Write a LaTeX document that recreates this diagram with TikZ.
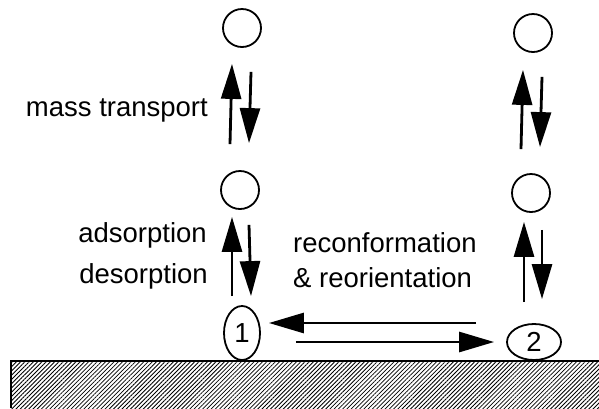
\documentclass[tikz,border=0pt]{standalone}
\usepackage{fontspec}
\setmainfont{Liberation Sans}
\usetikzlibrary{arrows.meta,shapes.geometric,patterns.meta}

\begin{document}
\begin{tikzpicture}[x=1pt, y=-1pt,
    font=\fontsize{27.5}{33}\selectfont,
    mol/.style={draw, circle, line width=1.8pt, minimum size=38pt, inner sep=0pt},
    site/.style={draw, ellipse, line width=1.8pt, inner sep=0pt},
    flow/.style={-{Triangle[length=35pt, width=20pt]}, line width=2.8pt},
    lbl/.style={inner sep=0pt}]

    \useasboundingbox (0,0) rectangle (599,408);

    % surface
    \fill[pattern={Lines[angle=45, distance=3pt, line width=0.8pt]}] (11,361) rectangle (599,408);
    \draw[line width=1.8pt] (11,408) -- (11,361) -- (599,361);

    \node[mol] (topL) at (242,28) {};
    \node[mol] (midL) at (240,190) {};
    \node[site, minimum width=36pt, minimum height=54pt] (one) at (242,333) {1};

    \node[mol] (topR) at (533,33) {};
    \node[mol] (midR) at (531,193) {};
    \node[site, minimum width=54pt, minimum height=36pt] (two) at (534,342) {2};

    \node[lbl, anchor=base east] (mass) at (208,116) {mass transport};
    \node[lbl, anchor=base east] (ads)  at (207,242) {adsorption};
    \node[lbl, anchor=base east] (des)  at (208,283) {desorption};
    \node[lbl, anchor=base west] (recon) at (293,252) {reconformation};
    \node[lbl, anchor=base west] (reor)  at (293,287) {\& reorientation};

    \draw[flow] ([shift={(-10,-26)}]midL.north) -- ([shift={(-10,16)}]topL.south);
    \draw[flow] ([shift={(9,24)}]topL.south) -- ([shift={(9,-27)}]midL.north);
    \draw[flow] ([shift={(-10,-9)}]one.north) -- ([shift={(-8,7)}]midL.south);
    \draw[flow] ([shift={(9,15)}]midL.south) -- ([shift={(9,-9)}]one.north);

    \draw[flow] ([shift={(-10,-24)}]midR.north) -- ([shift={(-10,17)}]topR.south);
    \draw[flow] ([shift={(9,24)}]topR.south) -- ([shift={(9,-26)}]midR.north);
    \draw[flow] ([shift={(-10,-21)}]two.north) -- ([shift={(-7,9)}]midR.south);
    \draw[flow] ([shift={(11,17)}]midR.south) -- ([shift={(8,-24)}]two.north);

    \draw[flow] ([shift={(-30,-19)}]two.west) -- ([shift={(8,-10)}]one.east);
    \draw[flow] ([shift={(35,9)}]one.east) -- ([shift={(-12,0)}]two.west);
  \end{tikzpicture}
\end{document}
